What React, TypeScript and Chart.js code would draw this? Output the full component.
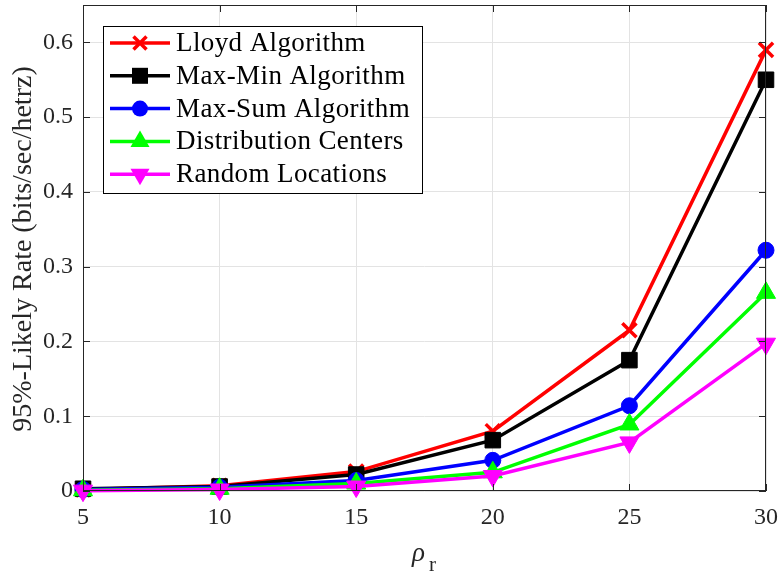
import React, { useEffect, useRef } from "react";
import { Chart, registerables } from "chart.js";

Chart.register(...registerables);

const rhoValues = [5, 10, 15, 20, 25, 30];
const xTickLabels = ["5", "10", "15", "20", "25", "30"];
const yTickValues = [0, 0.1, 0.2, 0.3, 0.4, 0.5, 0.6];

const lloyd = [0.002, 0.007, 0.026, 0.08, 0.215, 0.59];
const maxMin = [0.003, 0.006, 0.022, 0.068, 0.175, 0.55];
const maxSum = [0.002, 0.005, 0.014, 0.041, 0.114, 0.322];
const distCenters = [0.001, 0.003, 0.01, 0.025, 0.089, 0.265];
const randomLoc = [0.0005, 0.002, 0.006, 0.02, 0.065, 0.197];

const seriesNames = [
  "Lloyd Algorithm",
  "Max-Min Algorithm",
  "Max-Sum Algorithm",
  "Distribution Centers",
  "Random Locations",
];
const seriesColors = ["#ff0000", "#000000", "#0000ff", "#00ff00", "#ff00ff"];
const seriesMarkers = ["crossRot", "rect", "circle", "triangle", "triangleDown"];

const FONT = "'Liberation Serif', 'DejaVu Serif', serif";

function drawMarker(ctx: CanvasRenderingContext2D, kind: string, x: number, y: number, color: string) {
  ctx.save();
  ctx.fillStyle = color;
  ctx.strokeStyle = color;
  ctx.beginPath();
  if (kind === "crossRot") {
    const a = 6.5;
    ctx.lineWidth = 3.5;
    ctx.moveTo(x - a, y - a);
    ctx.lineTo(x + a, y + a);
    ctx.moveTo(x + a, y - a);
    ctx.lineTo(x - a, y + a);
    ctx.stroke();
  } else if (kind === "rect") {
    ctx.rect(x - 8, y - 8, 16, 16);
    ctx.fill();
  } else if (kind === "circle") {
    ctx.arc(x, y, 8, 0, Math.PI * 2);
    ctx.fill();
  } else if (kind === "triangle") {
    const r = 11;
    ctx.moveTo(x, y - r);
    ctx.lineTo(x + r * 0.866, y + r * 0.5);
    ctx.lineTo(x - r * 0.866, y + r * 0.5);
    ctx.closePath();
    ctx.fill();
  } else {
    const r = 11;
    ctx.moveTo(x, y + r);
    ctx.lineTo(x + r * 0.866, y - r * 0.5);
    ctx.lineTo(x - r * 0.866, y - r * 0.5);
    ctx.closePath();
    ctx.fill();
  }
  ctx.restore();
}

const framePlugin = {
  id: "matlabFrame",
  afterDraw(chart: any) {
    const { ctx, chartArea } = chart;
    const { left, right, top, bottom } = chartArea;
    const xs = chart.scales.x;
    const ys = chart.scales.y;
    ctx.save();
    // box
    ctx.strokeStyle = "#262626";
    ctx.lineWidth = 1;
    ctx.strokeRect(left + 0.5, top + 0.5, right - left - 1, bottom - top - 1);
    // inward ticks
    ctx.beginPath();
    const tl = 7;
    rhoValues.forEach((v) => {
      const px = Math.round(xs.getPixelForValue(v)) + 0.5;
      ctx.moveTo(px, bottom);
      ctx.lineTo(px, bottom - tl);
      ctx.moveTo(px, top);
      ctx.lineTo(px, top + tl);
    });
    yTickValues.forEach((v) => {
      const py = Math.round(ys.getPixelForValue(v)) + 0.5;
      ctx.moveTo(left, py);
      ctx.lineTo(left + tl, py);
      ctx.moveTo(right, py);
      ctx.lineTo(right - tl, py);
    });
    ctx.stroke();

    // legend
    const lx = 103, ly = 26, lw = 319, lh = 167;
    ctx.fillStyle = "#ffffff";
    ctx.fillRect(lx, ly, lw, lh);
    ctx.strokeStyle = "#000000";
    ctx.strokeRect(lx + 0.5, ly + 0.5, lw, lh);
    ctx.font = `27px ${FONT}`;
    (ctx as any).letterSpacing = "0.4px";
    ctx.textBaseline = "middle";
    ctx.textAlign = "left";
    seriesNames.forEach((name, i) => {
      const cy = 43 + i * 32.8;
      ctx.strokeStyle = seriesColors[i];
      ctx.lineWidth = 3.5;
      ctx.beginPath();
      ctx.moveTo(110, cy);
      ctx.lineTo(170, cy);
      ctx.stroke();
      drawMarker(ctx, seriesMarkers[i], 140, cy, seriesColors[i]);
      ctx.fillStyle = "#000000";
      ctx.fillText(name, 176, cy + 1);
    });
    (ctx as any).letterSpacing = "0px";

    // x title
    ctx.fillStyle = "#262626";
    ctx.textBaseline = "alphabetic";
    ctx.font = `italic 27px ${FONT}`;
    ctx.fillText("ρ", 412, 561);
    ctx.font = `21px ${FONT}`;
    ctx.fillText("r", 429, 571);

    // y title
    ctx.save();
    ctx.translate(31, 249);
    ctx.rotate(-Math.PI / 2);
    ctx.textAlign = "center";
    ctx.textBaseline = "alphabetic";
    ctx.font = `28px ${FONT}`;
    ctx.fillText("95%-Likely Rate (bits/sec/hetrz)", 0, 0);
    ctx.restore();

    ctx.restore();
  },
};

export default function App() {
  const ref = useRef<HTMLCanvasElement | null>(null);
  useEffect(() => {
    document.body.style.margin = "0";
    const canvas = ref.current;
    if (!canvas) return;
    const datasetsRaw = [lloyd, maxMin, maxSum, distCenters, randomLoc];
    const datasets = datasetsRaw.map((vals, i) => {
      const marker = seriesMarkers[i];
      const isDown = marker === "triangleDown";
      const radius = marker === "crossRot" ? 10 : marker === "rect" ? 11 : marker === "circle" ? 8 : 11;
      return {
        label: seriesNames[i],
        data: vals.map((v, j) => ({ x: rhoValues[j], y: v })),
        borderColor: seriesColors[i],
        backgroundColor: seriesColors[i],
        pointBackgroundColor: seriesColors[i],
        pointBorderColor: seriesColors[i],
        borderWidth: 3.5,
        pointStyle: isDown ? "triangle" : marker,
        rotation: isDown ? 180 : 0,
        pointRadius: radius,
        pointBorderWidth: marker === "crossRot" ? 3.5 : 1,
        pointHoverRadius: radius,
        tension: 0,
        clip: false as any,
        order: 10 - i,
      };
    });
    const chart = new Chart(canvas, {
      type: "line",
      data: { datasets },
      plugins: [framePlugin],
      options: {
        animation: false,
        responsive: false,
        maintainAspectRatio: false,
        layout: { autoPadding: false, padding: { top: 5, right: 16, left: 0, bottom: 0 } },
        plugins: { legend: { display: false }, tooltip: { enabled: false } },
        scales: {
          x: {
            type: "linear",
            min: 5,
            max: 30,
            afterFit: (s: any) => {
              s.height = 84;
              s.paddingLeft = 0;
              s.paddingRight = 0;
            },
            afterBuildTicks: (s: any) => {
              s.ticks = rhoValues.map((v) => ({ value: v }));
            },
            ticks: {
              padding: 12,
              color: "#262626",
              font: { family: FONT, size: 24 },
              callback: (v: any) => {
                const idx = rhoValues.indexOf(Number(v));
                return idx >= 0 ? xTickLabels[idx] : "";
              },
              maxRotation: 0,
            },
            grid: { color: "#e3e3e3", drawTicks: false, lineWidth: 1 },
            border: { display: false },
          },
          y: {
            type: "linear",
            min: 0,
            max: 0.65,
            afterFit: (s: any) => {
              s.width = 83;
              s.paddingTop = 0;
              s.paddingBottom = 0;
            },
            afterBuildTicks: (s: any) => {
              s.ticks = yTickValues.map((v) => ({ value: v }));
            },
            ticks: {
              padding: 0,
              color: "#262626",
              font: { family: FONT, size: 24, lineHeight: 0.35 },
              callback: (v: any) => (Number(v) === 0 ? "0" : Number(v).toFixed(1)),
            },
            grid: {
              color: "#e3e3e3",
              drawTicks: true,
              tickLength: 10,
              tickColor: "rgba(0,0,0,0)",
              lineWidth: 1,
            },
            border: { display: false },
          },
        },
      },
    });
    return () => chart.destroy();
  }, []);
  return (
    <div style={{ width: 782, height: 575, background: "#fff" }}>
      <canvas ref={ref} width={782} height={575} style={{ display: "block" }} />
    </div>
  );
}
